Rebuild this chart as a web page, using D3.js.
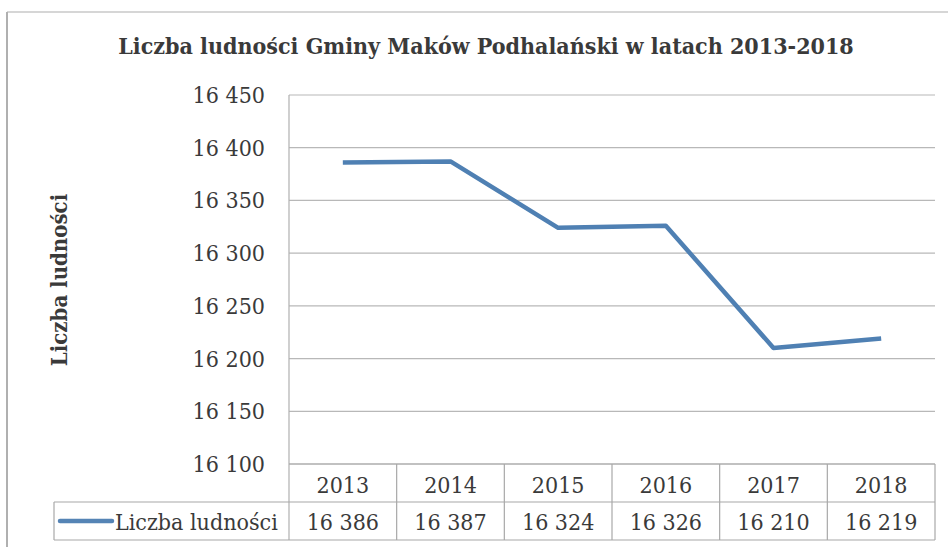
<!DOCTYPE html>
<html>
<head>
<meta charset="utf-8">
<title>Liczba ludności</title>
<script src="https://d3js.org/d3.v7.min.js"></script>
<style>
  body { margin: 0; background: #fff; }
  svg text { font-family: "DejaVu Serif Condensed", "Liberation Serif", serif; fill: #3a3a3a; }
</style>
</head>
<body>
<div id="chart"></div>
<script>
// data
var years = ["2013", "2014", "2015", "2016", "2017", "2018"];
var population = [16386, 16387, 16324, 16326, 16210, 16219];
var yTicks = [16100, 16150, 16200, 16250, 16300, 16350, 16400, 16450];
var seriesName = "Liczba ludności";
var title = "Liczba ludności Gminy Maków Podhalański w latach 2013-2018";

var width = 948, height = 547;
var plotLeft = 289, plotRight = 935, plotTop = 95, plotBottom = 464;
var rowH = 38;

var fmt = function(v) { return d3.format(",")(v).replace(",", " "); };

var svg = d3.select("#chart").append("svg")
    .attr("width", width).attr("height", height);

// chart frame (scan edges)
svg.append("line").attr("x1", 7).attr("x2", width).attr("y1", 12).attr("y2", 12)
    .attr("stroke", "#c8c8c8").attr("stroke-width", 1.5);
svg.append("line").attr("x1", 7).attr("x2", 7).attr("y1", 12).attr("y2", height)
    .attr("stroke", "#b0b0b0").attr("stroke-width", 2);

var x = d3.scaleBand().domain(years).range([plotLeft, plotRight]);
var y = d3.scaleLinear().domain([16100, 16450]).range([plotBottom, plotTop]);

// gridlines
svg.append("g").selectAll("line").data(yTicks).enter().append("line")
    .attr("x1", plotLeft).attr("x2", plotRight)
    .attr("y1", function(d) { return y(d); }).attr("y2", function(d) { return y(d); })
    .attr("stroke", "#b8b8b8").attr("stroke-width", 1.2);

// left axis line
svg.append("line").attr("x1", plotLeft).attr("x2", plotLeft)
    .attr("y1", plotTop).attr("y2", plotBottom + rowH * 2)
    .attr("stroke", "#b0b0b0").attr("stroke-width", 1.2);

// y tick labels
svg.append("g").selectAll("text").data(yTicks).enter().append("text")
    .attr("x", 265).attr("y", function(d) { return y(d); })
    .attr("dy", "0.35em")
    .attr("text-anchor", "end")
    .style("font-size", "23px")
    .text(function(d) { return fmt(d); });

// y axis title
svg.append("text")
    .attr("transform", "translate(67,280) rotate(-90)")
    .attr("text-anchor", "middle")
    .style("font-size", "22px").style("font-weight", "bold")
    .text(seriesName);

// chart title
svg.append("text")
    .attr("x", 486).attr("y", 54)
    .attr("text-anchor", "middle")
    .style("font-size", "23px").style("font-weight", "bold")
    .text(title);

// data table
var tbl = svg.append("g");
var grid = "#a8a8a8";
[[plotLeft, plotBottom], [54, plotBottom + rowH], [54, plotBottom + rowH * 2]].forEach(function(p) {
  tbl.append("line").attr("x1", p[0]).attr("x2", plotRight).attr("y1", p[1]).attr("y2", p[1])
      .attr("stroke", grid).attr("stroke-width", 1.2);
});
tbl.selectAll("line.v").data(years).enter().append("line")
    .attr("class", "v")
    .attr("x1", function(d) { return x(d) + x.bandwidth(); })
    .attr("x2", function(d) { return x(d) + x.bandwidth(); })
    .attr("y1", plotBottom).attr("y2", plotBottom + rowH * 2)
    .attr("stroke", grid).attr("stroke-width", 1.2);
tbl.append("line").attr("x1", 54).attr("x2", 54)
    .attr("y1", plotBottom + rowH).attr("y2", plotBottom + rowH * 2)
    .attr("stroke", grid).attr("stroke-width", 1.2);

tbl.selectAll("text.yr").data(years).enter().append("text")
    .attr("class", "yr")
    .attr("x", function(d) { return x(d) + x.bandwidth() / 2; })
    .attr("y", plotBottom + rowH / 2 + 2).attr("dy", "0.35em")
    .attr("text-anchor", "middle")
    .style("font-size", "23px")
    .text(function(d) { return d; });

tbl.selectAll("text.val").data(population).enter().append("text")
    .attr("class", "val")
    .attr("x", function(d, i) { return x(years[i]) + x.bandwidth() / 2; })
    .attr("y", plotBottom + rowH * 1.5 + 1).attr("dy", "0.35em")
    .attr("text-anchor", "middle")
    .style("font-size", "23px")
    .text(function(d) { return fmt(d); });

// legend key in table
tbl.append("line").attr("x1", 60).attr("x2", 112)
    .attr("y1", plotBottom + rowH * 1.5).attr("y2", plotBottom + rowH * 1.5)
    .attr("stroke", "#5584b5").attr("stroke-width", 4.5).attr("stroke-linecap", "round");
tbl.append("text")
    .attr("x", 115).attr("y", plotBottom + rowH * 1.5 + 1).attr("dy", "0.35em")
    .style("font-size", "23px")
    .text(seriesName);

// line
var line = d3.line()
    .x(function(d, i) { return x(years[i]) + x.bandwidth() / 2; })
    .y(function(d) { return y(d); });
svg.append("path").datum(population)
    .attr("d", line)
    .attr("fill", "none")
    .attr("stroke", "#4f80b3")
    .attr("stroke-width", 4.5)
    .attr("stroke-linejoin", "round");
</script>
</body>
</html>
